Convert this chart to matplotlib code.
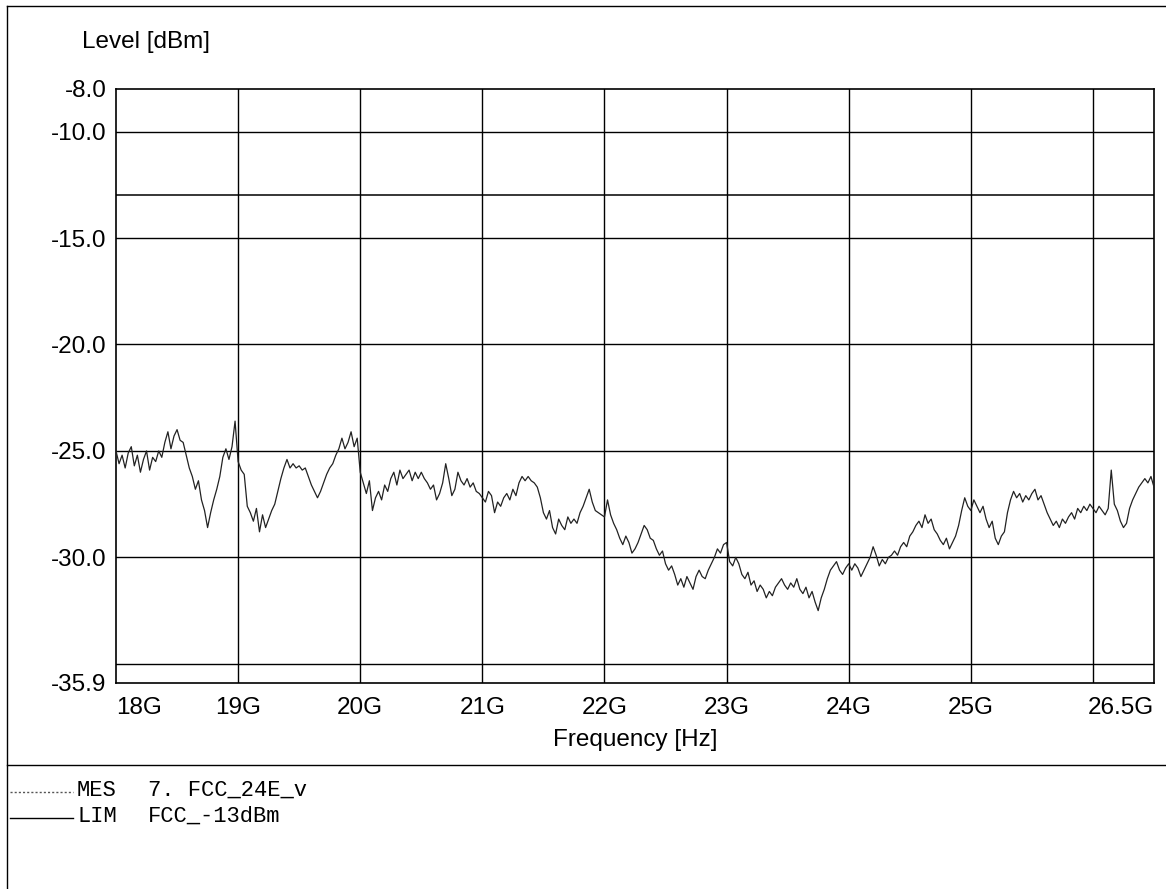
import numpy as np
import matplotlib
matplotlib.use("Agg")
import matplotlib.pyplot as plt

# ---------------- data ----------------
f_start_ghz = 18.0
f_stop_ghz = 26.5
f_step_ghz = 0.025

level_dbm = [
    # 18.0 - 18.5
    -25.0, -25.6, -25.2, -25.8, -25.1, -24.8, -25.7, -25.2, -26.0, -25.4,
    -25.0, -25.9, -25.3, -25.5, -25.0, -25.3, -24.6, -24.1, -24.9, -24.3,
    # 18.5 - 19.0
    -24.0, -24.5, -24.6, -25.2, -25.8, -26.2, -26.8, -26.4, -27.3, -27.8,
    -28.6, -27.9, -27.3, -26.8, -26.2, -25.3, -24.9, -25.4, -24.8, -23.6,
    # 19.0 - 19.5
    -25.5, -25.9, -26.1, -27.6, -27.9, -28.3, -27.7, -28.8, -28.0, -28.6,
    -28.2, -27.8, -27.5, -26.9, -26.3, -25.8, -25.4, -25.8, -25.6, -25.8,
    # 19.5 - 20.0
    -25.7, -25.9, -25.8, -26.2, -26.6, -26.9, -27.2, -26.9, -26.5, -26.1,
    -25.8, -25.6, -25.2, -24.9, -24.4, -24.9, -24.6, -24.1, -24.8, -24.4,
    # 20.0 - 20.5
    -26.0, -26.5, -27.0, -26.4, -27.8, -27.2, -26.9, -27.3, -26.6, -26.9,
    -26.3, -26.0, -26.6, -25.9, -26.3, -26.1, -25.9, -26.4, -26.0, -26.3,
    # 20.5 - 21.0
    -26.0, -26.3, -26.5, -26.8, -26.6, -27.3, -27.0, -26.5, -25.6, -26.3,
    -27.1, -26.8, -26.0, -26.4, -26.6, -26.3, -26.7, -26.5, -26.9, -27.0,
    # 21.0 - 21.5
    -27.2, -27.4, -26.9, -27.1, -27.9, -27.4, -27.6, -27.2, -27.0, -27.3,
    -26.8, -27.1, -26.5, -26.2, -26.4, -26.2, -26.4, -26.5, -26.7, -27.2,
    # 21.5 - 22.0
    -27.9, -28.2, -27.8, -28.6, -28.9, -28.2, -28.5, -28.7, -28.1, -28.4,
    -28.2, -28.4, -27.9, -27.6, -27.2, -26.8, -27.4, -27.8, -27.9, -28.0,
    # 22.0 - 22.5
    -28.1, -27.3, -28.0, -28.4, -28.7, -29.1, -29.4, -29.0, -29.3, -29.8,
    -29.6, -29.3, -28.9, -28.5, -28.7, -29.1, -29.2, -29.6, -29.9, -29.7,
    # 22.5 - 23.0
    -30.3, -30.6, -30.4, -30.8, -31.3, -31.0, -31.4, -30.9, -31.2, -31.5,
    -30.9, -30.6, -30.9, -31.0, -30.6, -30.3, -30.0, -29.6, -29.8, -29.4,
    # 23.0 - 23.5
    -29.3, -30.2, -30.4, -30.0, -30.3, -30.8, -31.0, -30.7, -31.3, -31.1,
    -31.6, -31.3, -31.5, -31.9, -31.6, -31.8, -31.4, -31.2, -31.0, -31.3,
    # 23.5 - 24.0
    -31.5, -31.2, -31.4, -31.0, -31.5, -31.7, -31.4, -31.9, -31.6, -32.1,
    -32.5, -31.9, -31.5, -31.0, -30.6, -30.4, -30.2, -30.6, -30.8, -30.5,
    # 24.0 - 24.5
    -30.3, -30.6, -30.3, -30.5, -30.9, -30.6, -30.3, -30.0, -29.5, -29.9,
    -30.4, -30.1, -30.3, -30.0, -29.9, -29.7, -29.9, -29.5, -29.3, -29.5,
    # 24.5 - 25.0
    -29.0, -28.8, -28.5, -28.3, -28.6, -28.0, -28.4, -28.2, -28.7, -28.9,
    -29.2, -29.4, -29.1, -29.6, -29.3, -29.0, -28.5, -27.8, -27.2, -27.6,
    # 25.0 - 25.5
    -27.8, -27.3, -27.6, -27.9, -27.6, -28.2, -28.6, -28.3, -29.1, -29.4,
    -29.0, -28.8, -27.9, -27.3, -26.9, -27.2, -27.0, -27.4, -27.1, -27.3,
    # 25.5 - 26.0
    -27.0, -26.8, -27.3, -27.1, -27.5, -27.9, -28.2, -28.5, -28.3, -28.6,
    -28.2, -28.4, -28.1, -27.9, -28.2, -27.7, -27.9, -27.6, -27.8, -27.5,
    # 26.0 - 26.5
    -27.7, -27.9, -27.6, -27.8, -28.0, -27.7, -25.9, -27.5, -27.8, -28.3,
    -28.6, -28.4, -27.7, -27.3, -27.0, -26.7, -26.5, -26.3, -26.5, -26.2,
    -26.7,
]

limit_dbm = -13.0
y_min, y_max = -35.9, -8.0
y_ticks = [-35.9, -30.0, -25.0, -20.0, -15.0, -10.0, -8.0]
y_grid = [-35.0, -30.0, -25.0, -20.0, -15.0, -10.0]
x_grid = [19, 20, 21, 22, 23, 24, 25, 26]
x_ticks = [18, 19, 20, 21, 22, 23, 24, 25, 26.5]
x_tick_labels = ["18G", "19G", "20G", "21G", "22G", "23G", "24G", "25G", "26.5G"]

legend_rows = [("MES", "7. FCC_24E_v"), ("LIM", "FCC_-13dBm")]

# ---------------- figure ----------------
W, H = 1166, 889
fig = plt.figure(figsize=(W / 100, H / 100), dpi=100)
fig.patch.set_facecolor("white")

def fx(px):
    return px / W

def fy(py):
    return 1 - py / H

ax_l, ax_r, ax_t, ax_b = 116, 1154, 89, 683
ax = fig.add_axes([fx(ax_l), fy(ax_b), (ax_r - ax_l) / W, (ax_b - ax_t) / H])

freq = np.linspace(f_start_ghz, f_stop_ghz, len(level_dbm))

for g in y_grid:
    ax.axhline(g, color="black", lw=1.0, zorder=1)
for g in x_grid:
    ax.axvline(g, color="black", lw=1.0, zorder=1)

ax.plot([f_start_ghz, f_stop_ghz], [limit_dbm, limit_dbm], color="black", lw=1.1, zorder=2)
ax.plot(freq, level_dbm, color="#222222", lw=0.9, zorder=3)

ax.set_xlim(f_start_ghz, f_stop_ghz)
ax.set_ylim(y_min, y_max)

ax.set_yticks(y_ticks)
ax.set_yticklabels([f"{v:.1f}" for v in y_ticks])
ax.set_xticks(x_ticks)
ax.set_xticklabels(x_tick_labels)
ax.tick_params(axis="both", length=0, labelsize=17.5)
ax.tick_params(axis="y", pad=7)
ax.tick_params(axis="x", pad=10)
for lab in ax.get_xticklabels() + ax.get_yticklabels():
    lab.set_fontfamily("Liberation Sans")
xl = ax.get_xticklabels()
xl[0].set_horizontalalignment("left")
xl[-1].set_horizontalalignment("right")

for sp in ax.spines.values():
    sp.set_linewidth(1.2)
    sp.set_color("black")

# axis titles
fig.text(fx(82), fy(42), "Level [dBm]", fontsize=17.5, family="Liberation Sans",
         ha="left", va="center")
fig.text(fx(635), fy(740), "Frequency [Hz]", fontsize=17.5, family="Liberation Sans",
         ha="center", va="center")

# outer frame lines
fig.add_artist(plt.Line2D([fx(7), fx(7)], [fy(6), fy(889)], color="black", lw=1.0))
fig.add_artist(plt.Line2D([fx(7), fx(1166)], [fy(6), fy(6)], color="black", lw=1.0))
fig.add_artist(plt.Line2D([fx(7), fx(1166)], [fy(765), fy(765)], color="black", lw=1.0))

# legend
row_y = [790, 816]
styles = [dict(ls=(0, (1.5, 1.5)), color="#555555", lw=1.0), dict(ls="-", color="black", lw=1.0)]
for (key, name), yy, st in zip(legend_rows, row_y, styles):
    fig.add_artist(plt.Line2D([fx(10), fx(73)], [fy(yy + 2), fy(yy + 2)], **st))
    fig.text(fx(77), fy(yy), key, fontsize=15.9, family="Liberation Mono", ha="left", va="center")
    fig.text(fx(148), fy(yy), name, fontsize=15.9, family="Liberation Mono", ha="left", va="center")

fig.savefig("out.png", dpi=100, facecolor="white")
